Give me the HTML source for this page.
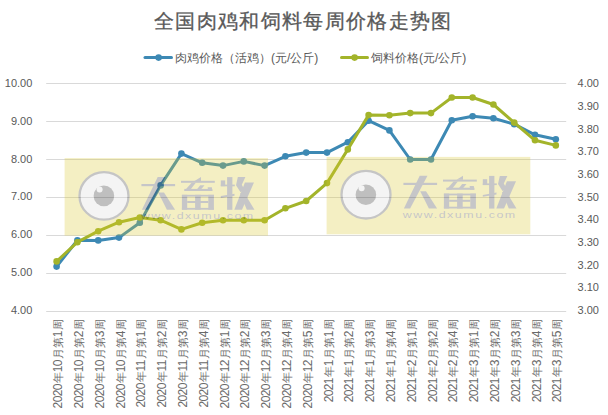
<!DOCTYPE html>
<html><head><meta charset="utf-8"><style>
html,body{margin:0;padding:0;background:#fff;width:608px;height:415px;overflow:hidden}
svg{display:block;font-family:"Liberation Sans",sans-serif}
</style></head><body>
<svg width="608" height="415" viewBox="0 0 608 415">
<line x1="46.2" y1="83.5" x2="566.2" y2="83.5" stroke="#d9d9d9" stroke-width="1"/>
<line x1="46.2" y1="121.5" x2="566.2" y2="121.5" stroke="#d9d9d9" stroke-width="1"/>
<line x1="46.2" y1="159.5" x2="566.2" y2="159.5" stroke="#d9d9d9" stroke-width="1"/>
<line x1="46.2" y1="197.5" x2="566.2" y2="197.5" stroke="#d9d9d9" stroke-width="1"/>
<line x1="46.2" y1="235.5" x2="566.2" y2="235.5" stroke="#d9d9d9" stroke-width="1"/>
<line x1="46.2" y1="273.5" x2="566.2" y2="273.5" stroke="#d9d9d9" stroke-width="1"/>
<line x1="46.2" y1="311.5" x2="566.2" y2="311.5" stroke="#d9d9d9" stroke-width="1"/>
<polyline points="56.60,266.6 77.40,240.2 98.20,240.4 119.00,237.6 139.80,222.7 160.60,185.4 181.40,153.6 202.20,162.8 223.00,165.6 243.80,161.4 264.60,165.6 285.40,156.3 306.20,152.6 327.00,152.6 347.80,142.2 368.60,120.7 389.40,130.4 410.20,159.5 431.00,159.5 451.80,120.3 472.60,116.3 493.40,118.3 514.20,124.2 535.00,134.8 555.80,139.2" fill="none" stroke="#3d89b4" stroke-width="3" stroke-linejoin="round" stroke-linecap="round"/><circle cx="56.60" cy="266.6" r="3.3" fill="#3d89b4"/><circle cx="77.40" cy="240.2" r="3.3" fill="#3d89b4"/><circle cx="98.20" cy="240.4" r="3.3" fill="#3d89b4"/><circle cx="119.00" cy="237.6" r="3.3" fill="#3d89b4"/><circle cx="139.80" cy="222.7" r="3.3" fill="#3d89b4"/><circle cx="160.60" cy="185.4" r="3.3" fill="#3d89b4"/><circle cx="181.40" cy="153.6" r="3.3" fill="#3d89b4"/><circle cx="202.20" cy="162.8" r="3.3" fill="#3d89b4"/><circle cx="223.00" cy="165.6" r="3.3" fill="#3d89b4"/><circle cx="243.80" cy="161.4" r="3.3" fill="#3d89b4"/><circle cx="264.60" cy="165.6" r="3.3" fill="#3d89b4"/><circle cx="285.40" cy="156.3" r="3.3" fill="#3d89b4"/><circle cx="306.20" cy="152.6" r="3.3" fill="#3d89b4"/><circle cx="327.00" cy="152.6" r="3.3" fill="#3d89b4"/><circle cx="347.80" cy="142.2" r="3.3" fill="#3d89b4"/><circle cx="368.60" cy="120.7" r="3.3" fill="#3d89b4"/><circle cx="389.40" cy="130.4" r="3.3" fill="#3d89b4"/><circle cx="410.20" cy="159.5" r="3.3" fill="#3d89b4"/><circle cx="431.00" cy="159.5" r="3.3" fill="#3d89b4"/><circle cx="451.80" cy="120.3" r="3.3" fill="#3d89b4"/><circle cx="472.60" cy="116.3" r="3.3" fill="#3d89b4"/><circle cx="493.40" cy="118.3" r="3.3" fill="#3d89b4"/><circle cx="514.20" cy="124.2" r="3.3" fill="#3d89b4"/><circle cx="535.00" cy="134.8" r="3.3" fill="#3d89b4"/><circle cx="555.80" cy="139.2" r="3.3" fill="#3d89b4"/>
<polyline points="56.60,261.4 77.40,242.2 98.20,231.2 119.00,222.2 139.80,217.5 160.60,220.2 181.40,229.4 202.20,222.7 223.00,220.2 243.80,220.2 264.60,220.3 285.40,208.3 306.20,201.0 327.00,183.1 347.80,149.4 368.60,115.1 389.40,115.3 410.20,113.1 431.00,113.1 451.80,97.5 472.60,97.5 493.40,104.5 514.20,122.6 535.00,140.3 555.80,145.4" fill="none" stroke="#a3b42a" stroke-width="3" stroke-linejoin="round" stroke-linecap="round"/><circle cx="56.60" cy="261.4" r="3.3" fill="#a3b42a"/><circle cx="77.40" cy="242.2" r="3.3" fill="#a3b42a"/><circle cx="98.20" cy="231.2" r="3.3" fill="#a3b42a"/><circle cx="119.00" cy="222.2" r="3.3" fill="#a3b42a"/><circle cx="139.80" cy="217.5" r="3.3" fill="#a3b42a"/><circle cx="160.60" cy="220.2" r="3.3" fill="#a3b42a"/><circle cx="181.40" cy="229.4" r="3.3" fill="#a3b42a"/><circle cx="202.20" cy="222.7" r="3.3" fill="#a3b42a"/><circle cx="223.00" cy="220.2" r="3.3" fill="#a3b42a"/><circle cx="243.80" cy="220.2" r="3.3" fill="#a3b42a"/><circle cx="264.60" cy="220.3" r="3.3" fill="#a3b42a"/><circle cx="285.40" cy="208.3" r="3.3" fill="#a3b42a"/><circle cx="306.20" cy="201.0" r="3.3" fill="#a3b42a"/><circle cx="327.00" cy="183.1" r="3.3" fill="#a3b42a"/><circle cx="347.80" cy="149.4" r="3.3" fill="#a3b42a"/><circle cx="368.60" cy="115.1" r="3.3" fill="#a3b42a"/><circle cx="389.40" cy="115.3" r="3.3" fill="#a3b42a"/><circle cx="410.20" cy="113.1" r="3.3" fill="#a3b42a"/><circle cx="431.00" cy="113.1" r="3.3" fill="#a3b42a"/><circle cx="451.80" cy="97.5" r="3.3" fill="#a3b42a"/><circle cx="472.60" cy="97.5" r="3.3" fill="#a3b42a"/><circle cx="493.40" cy="104.5" r="3.3" fill="#a3b42a"/><circle cx="514.20" cy="122.6" r="3.3" fill="#a3b42a"/><circle cx="535.00" cy="140.3" r="3.3" fill="#a3b42a"/><circle cx="555.80" cy="145.4" r="3.3" fill="#a3b42a"/>
<g opacity="0.28">
<rect x="64.6" y="158.1" width="203.4" height="77.5" fill="#dbc92c"/>
<ellipse cx="104.00" cy="195.90" rx="24.5" ry="23.8" fill="#dbdbdb" stroke="#333333" stroke-width="2.3"/>
<circle cx="103.90" cy="195.90" r="10.3" fill="#1e1e1e"/>
<circle cx="99.60" cy="189.40" r="3" fill="#dbdbdb"/>
<g fill="#37373e"><rect x="141.40" y="184.00" width="33.7" height="2.2"/><rect x="181.00" y="180.80" width="33.8" height="2.0"/><rect x="184.30" y="188.90" width="28.0" height="2.1"/><rect x="181.90" y="194.80" width="5.3" height="14.9"/><rect x="208.30" y="194.80" width="5.6" height="14.9"/><rect x="181.90" y="194.80" width="32.0" height="1.8"/><rect x="181.90" y="207.90" width="32.0" height="1.8"/><rect x="195.10" y="194.80" width="5.6" height="14.9"/><rect x="187.20" y="201.00" width="21.1" height="2.0"/><rect x="227.10" y="177.10" width="5.3" height="32.7"/><rect x="220.80" y="180.40" width="4.4" height="5.8"/><rect x="220.80" y="184.60" width="14.0" height="1.7"/><polygon points="157.70,176.90 165.50,176.90 148.10,209.80 141.90,209.80"/><polygon points="158.20,192.50 164.00,192.50 175.10,209.80 166.90,209.80"/><polygon points="194.50,180.90 201.00,177.00 201.00,180.90"/><polygon points="191.60,182.70 195.80,182.70 189.40,191.00 184.30,191.00"/><polygon points="200.20,185.20 204.50,185.20 201.20,189.20 197.00,189.20"/><polygon points="207.60,187.30 211.80,187.30 212.40,191.00 208.20,191.00"/><polygon points="220.80,196.10 234.50,193.80 234.50,195.70 220.80,198.00"/><polygon points="237.80,177.10 245.40,177.10 241.80,184.70 244.50,189.70 240.50,192.20 236.00,185.20"/><polygon points="244.90,182.40 254.00,182.40 242.00,209.80 234.30,209.80"/><polygon points="240.00,193.20 244.50,193.20 254.50,209.80 246.80,209.80"/></g>
<text x="140.80" y="219.10" font-size="9.8" fill="#33333b" textLength="114" lengthAdjust="spacingAndGlyphs" letter-spacing="1.2">www.dxumu.com</text>
</g>
<g opacity="0.28">
<rect x="326.6" y="156.9" width="203.7" height="77.4" fill="#dbc92c"/>
<ellipse cx="366.00" cy="194.70" rx="24.5" ry="23.8" fill="#dbdbdb" stroke="#333333" stroke-width="2.3"/>
<circle cx="365.90" cy="194.70" r="10.3" fill="#1e1e1e"/>
<circle cx="361.60" cy="188.20" r="3" fill="#dbdbdb"/>
<g fill="#37373e"><rect x="403.40" y="182.80" width="33.7" height="2.2"/><rect x="443.00" y="179.60" width="33.8" height="2.0"/><rect x="446.30" y="187.70" width="28.0" height="2.1"/><rect x="443.90" y="193.60" width="5.3" height="14.9"/><rect x="470.30" y="193.60" width="5.6" height="14.9"/><rect x="443.90" y="193.60" width="32.0" height="1.8"/><rect x="443.90" y="206.70" width="32.0" height="1.8"/><rect x="457.10" y="193.60" width="5.6" height="14.9"/><rect x="449.20" y="199.80" width="21.1" height="2.0"/><rect x="489.10" y="175.90" width="5.3" height="32.7"/><rect x="482.80" y="179.20" width="4.4" height="5.8"/><rect x="482.80" y="183.40" width="14.0" height="1.7"/><polygon points="419.70,175.70 427.50,175.70 410.10,208.60 403.90,208.60"/><polygon points="420.20,191.30 426.00,191.30 437.10,208.60 428.90,208.60"/><polygon points="456.50,179.70 463.00,175.80 463.00,179.70"/><polygon points="453.60,181.50 457.80,181.50 451.40,189.80 446.30,189.80"/><polygon points="462.20,184.00 466.50,184.00 463.20,188.00 459.00,188.00"/><polygon points="469.60,186.10 473.80,186.10 474.40,189.80 470.20,189.80"/><polygon points="482.80,194.90 496.50,192.60 496.50,194.50 482.80,196.80"/><polygon points="499.80,175.90 507.40,175.90 503.80,183.50 506.50,188.50 502.50,191.00 498.00,184.00"/><polygon points="506.90,181.20 516.00,181.20 504.00,208.60 496.30,208.60"/><polygon points="502.00,192.00 506.50,192.00 516.50,208.60 508.80,208.60"/></g>
<text x="402.80" y="217.90" font-size="9.8" fill="#33333b" textLength="114" lengthAdjust="spacingAndGlyphs" letter-spacing="1.2">www.dxumu.com</text>
</g>
<line x1="145" y1="57.6" x2="171.5" y2="57.6" stroke="#3d89b4" stroke-width="3" stroke-linecap="round"/><circle cx="158.6" cy="57.6" r="3.3" fill="#3d89b4"/>
<line x1="341.5" y1="57.6" x2="367.5" y2="57.6" stroke="#a3b42a" stroke-width="3" stroke-linecap="round"/><circle cx="354.6" cy="57.6" r="3.3" fill="#a3b42a"/>
<text x="32.3" y="86.90" font-size="11" text-anchor="end" fill="#595959" transform="translate(32.3 82.90) scale(1.0 1.03) translate(-32.3 -82.90)">10.00</text>
<text x="32.3" y="124.72" font-size="11" text-anchor="end" fill="#595959" transform="translate(32.3 120.72) scale(1.0 1.03) translate(-32.3 -120.72)">9.00</text>
<text x="32.3" y="162.54" font-size="11" text-anchor="end" fill="#595959" transform="translate(32.3 158.54) scale(1.0 1.03) translate(-32.3 -158.54)">8.00</text>
<text x="32.3" y="200.36" font-size="11" text-anchor="end" fill="#595959" transform="translate(32.3 196.36) scale(1.0 1.03) translate(-32.3 -196.36)">7.00</text>
<text x="32.3" y="238.18" font-size="11" text-anchor="end" fill="#595959" transform="translate(32.3 234.18) scale(1.0 1.03) translate(-32.3 -234.18)">6.00</text>
<text x="32.3" y="276.00" font-size="11" text-anchor="end" fill="#595959" transform="translate(32.3 272.00) scale(1.0 1.03) translate(-32.3 -272.00)">5.00</text>
<text x="32.3" y="313.82" font-size="11" text-anchor="end" fill="#595959" transform="translate(32.3 309.82) scale(1.0 1.03) translate(-32.3 -309.82)">4.00</text>
<text x="577.6" y="87.10" font-size="11" fill="#595959" transform="translate(577.6 83.10) scale(1.0 1.03) translate(-577.6 -83.10)">4.00</text>
<text x="577.6" y="109.77" font-size="11" fill="#595959" transform="translate(577.6 105.77) scale(1.0 1.03) translate(-577.6 -105.77)">3.90</text>
<text x="577.6" y="132.44" font-size="11" fill="#595959" transform="translate(577.6 128.44) scale(1.0 1.03) translate(-577.6 -128.44)">3.80</text>
<text x="577.6" y="155.11" font-size="11" fill="#595959" transform="translate(577.6 151.11) scale(1.0 1.03) translate(-577.6 -151.11)">3.70</text>
<text x="577.6" y="177.78" font-size="11" fill="#595959" transform="translate(577.6 173.78) scale(1.0 1.03) translate(-577.6 -173.78)">3.60</text>
<text x="577.6" y="200.45" font-size="11" fill="#595959" transform="translate(577.6 196.45) scale(1.0 1.03) translate(-577.6 -196.45)">3.50</text>
<text x="577.6" y="223.12" font-size="11" fill="#595959" transform="translate(577.6 219.12) scale(1.0 1.03) translate(-577.6 -219.12)">3.40</text>
<text x="577.6" y="245.79" font-size="11" fill="#595959" transform="translate(577.6 241.79) scale(1.0 1.03) translate(-577.6 -241.79)">3.30</text>
<text x="577.6" y="268.46" font-size="11" fill="#595959" transform="translate(577.6 264.46) scale(1.0 1.03) translate(-577.6 -264.46)">3.20</text>
<text x="577.6" y="291.13" font-size="11" fill="#595959" transform="translate(577.6 287.13) scale(1.0 1.03) translate(-577.6 -287.13)">3.10</text>
<text x="577.6" y="313.80" font-size="11" fill="#595959" transform="translate(577.6 309.80) scale(1.0 1.03) translate(-577.6 -309.80)">3.00</text>
<text x="154" y="28" font-size="20" fill="#595959" stroke="#595959" stroke-width="0.3" letter-spacing="1.33">全国肉鸡和饲料每周价格走势图</text>
<text x="175" y="62" font-size="12" fill="#595959">肉鸡价格（活鸡）(元/公斤)</text>
<text x="371" y="62" font-size="12" fill="#595959">饲料价格(元/公斤)</text>
<text transform="translate(62.10,319.3) rotate(-90)" text-anchor="end" fill="#6a6a6a"><tspan font-size="12" letter-spacing="-0.62" dx="0">2020</tspan><tspan font-size="11" letter-spacing="0" dx="0.9">年</tspan><tspan font-size="12" letter-spacing="-0.62" dx="0.0">10</tspan><tspan font-size="11" letter-spacing="0" dx="0.9">月第</tspan><tspan font-size="12" letter-spacing="-0.62" dx="0.0">1</tspan><tspan font-size="11" letter-spacing="0" dx="0.9">周</tspan></text>
<text transform="translate(82.90,319.3) rotate(-90)" text-anchor="end" fill="#6a6a6a"><tspan font-size="12" letter-spacing="-0.62" dx="0">2020</tspan><tspan font-size="11" letter-spacing="0" dx="0.9">年</tspan><tspan font-size="12" letter-spacing="-0.62" dx="0.0">10</tspan><tspan font-size="11" letter-spacing="0" dx="0.9">月第</tspan><tspan font-size="12" letter-spacing="-0.62" dx="0.0">2</tspan><tspan font-size="11" letter-spacing="0" dx="0.9">周</tspan></text>
<text transform="translate(103.70,319.3) rotate(-90)" text-anchor="end" fill="#6a6a6a"><tspan font-size="12" letter-spacing="-0.62" dx="0">2020</tspan><tspan font-size="11" letter-spacing="0" dx="0.9">年</tspan><tspan font-size="12" letter-spacing="-0.62" dx="0.0">10</tspan><tspan font-size="11" letter-spacing="0" dx="0.9">月第</tspan><tspan font-size="12" letter-spacing="-0.62" dx="0.0">3</tspan><tspan font-size="11" letter-spacing="0" dx="0.9">周</tspan></text>
<text transform="translate(124.50,319.3) rotate(-90)" text-anchor="end" fill="#6a6a6a"><tspan font-size="12" letter-spacing="-0.62" dx="0">2020</tspan><tspan font-size="11" letter-spacing="0" dx="0.9">年</tspan><tspan font-size="12" letter-spacing="-0.62" dx="0.0">10</tspan><tspan font-size="11" letter-spacing="0" dx="0.9">月第</tspan><tspan font-size="12" letter-spacing="-0.62" dx="0.0">4</tspan><tspan font-size="11" letter-spacing="0" dx="0.9">周</tspan></text>
<text transform="translate(145.30,319.3) rotate(-90)" text-anchor="end" fill="#6a6a6a"><tspan font-size="12" letter-spacing="-0.62" dx="0">2020</tspan><tspan font-size="11" letter-spacing="0" dx="0.9">年</tspan><tspan font-size="12" letter-spacing="-0.62" dx="0.0">11</tspan><tspan font-size="11" letter-spacing="0" dx="0.9">月第</tspan><tspan font-size="12" letter-spacing="-0.62" dx="0.0">1</tspan><tspan font-size="11" letter-spacing="0" dx="0.9">周</tspan></text>
<text transform="translate(166.10,319.3) rotate(-90)" text-anchor="end" fill="#6a6a6a"><tspan font-size="12" letter-spacing="-0.62" dx="0">2020</tspan><tspan font-size="11" letter-spacing="0" dx="0.9">年</tspan><tspan font-size="12" letter-spacing="-0.62" dx="0.0">11</tspan><tspan font-size="11" letter-spacing="0" dx="0.9">月第</tspan><tspan font-size="12" letter-spacing="-0.62" dx="0.0">2</tspan><tspan font-size="11" letter-spacing="0" dx="0.9">周</tspan></text>
<text transform="translate(186.90,319.3) rotate(-90)" text-anchor="end" fill="#6a6a6a"><tspan font-size="12" letter-spacing="-0.62" dx="0">2020</tspan><tspan font-size="11" letter-spacing="0" dx="0.9">年</tspan><tspan font-size="12" letter-spacing="-0.62" dx="0.0">11</tspan><tspan font-size="11" letter-spacing="0" dx="0.9">月第</tspan><tspan font-size="12" letter-spacing="-0.62" dx="0.0">3</tspan><tspan font-size="11" letter-spacing="0" dx="0.9">周</tspan></text>
<text transform="translate(207.70,319.3) rotate(-90)" text-anchor="end" fill="#6a6a6a"><tspan font-size="12" letter-spacing="-0.62" dx="0">2020</tspan><tspan font-size="11" letter-spacing="0" dx="0.9">年</tspan><tspan font-size="12" letter-spacing="-0.62" dx="0.0">11</tspan><tspan font-size="11" letter-spacing="0" dx="0.9">月第</tspan><tspan font-size="12" letter-spacing="-0.62" dx="0.0">4</tspan><tspan font-size="11" letter-spacing="0" dx="0.9">周</tspan></text>
<text transform="translate(228.50,319.3) rotate(-90)" text-anchor="end" fill="#6a6a6a"><tspan font-size="12" letter-spacing="-0.62" dx="0">2020</tspan><tspan font-size="11" letter-spacing="0" dx="0.9">年</tspan><tspan font-size="12" letter-spacing="-0.62" dx="0.0">12</tspan><tspan font-size="11" letter-spacing="0" dx="0.9">月第</tspan><tspan font-size="12" letter-spacing="-0.62" dx="0.0">1</tspan><tspan font-size="11" letter-spacing="0" dx="0.9">周</tspan></text>
<text transform="translate(249.30,319.3) rotate(-90)" text-anchor="end" fill="#6a6a6a"><tspan font-size="12" letter-spacing="-0.62" dx="0">2020</tspan><tspan font-size="11" letter-spacing="0" dx="0.9">年</tspan><tspan font-size="12" letter-spacing="-0.62" dx="0.0">12</tspan><tspan font-size="11" letter-spacing="0" dx="0.9">月第</tspan><tspan font-size="12" letter-spacing="-0.62" dx="0.0">2</tspan><tspan font-size="11" letter-spacing="0" dx="0.9">周</tspan></text>
<text transform="translate(270.10,319.3) rotate(-90)" text-anchor="end" fill="#6a6a6a"><tspan font-size="12" letter-spacing="-0.62" dx="0">2020</tspan><tspan font-size="11" letter-spacing="0" dx="0.9">年</tspan><tspan font-size="12" letter-spacing="-0.62" dx="0.0">12</tspan><tspan font-size="11" letter-spacing="0" dx="0.9">月第</tspan><tspan font-size="12" letter-spacing="-0.62" dx="0.0">3</tspan><tspan font-size="11" letter-spacing="0" dx="0.9">周</tspan></text>
<text transform="translate(290.90,319.3) rotate(-90)" text-anchor="end" fill="#6a6a6a"><tspan font-size="12" letter-spacing="-0.62" dx="0">2020</tspan><tspan font-size="11" letter-spacing="0" dx="0.9">年</tspan><tspan font-size="12" letter-spacing="-0.62" dx="0.0">12</tspan><tspan font-size="11" letter-spacing="0" dx="0.9">月第</tspan><tspan font-size="12" letter-spacing="-0.62" dx="0.0">4</tspan><tspan font-size="11" letter-spacing="0" dx="0.9">周</tspan></text>
<text transform="translate(311.70,319.3) rotate(-90)" text-anchor="end" fill="#6a6a6a"><tspan font-size="12" letter-spacing="-0.62" dx="0">2020</tspan><tspan font-size="11" letter-spacing="0" dx="0.9">年</tspan><tspan font-size="12" letter-spacing="-0.62" dx="0.0">12</tspan><tspan font-size="11" letter-spacing="0" dx="0.9">月第</tspan><tspan font-size="12" letter-spacing="-0.62" dx="0.0">5</tspan><tspan font-size="11" letter-spacing="0" dx="0.9">周</tspan></text>
<text transform="translate(332.50,319.3) rotate(-90)" text-anchor="end" fill="#6a6a6a"><tspan font-size="12" letter-spacing="-0.62" dx="0">2021</tspan><tspan font-size="11" letter-spacing="0" dx="0.9">年</tspan><tspan font-size="12" letter-spacing="-0.62" dx="0.0">1</tspan><tspan font-size="11" letter-spacing="0" dx="0.9">月第</tspan><tspan font-size="12" letter-spacing="-0.62" dx="0.0">1</tspan><tspan font-size="11" letter-spacing="0" dx="0.9">周</tspan></text>
<text transform="translate(353.30,319.3) rotate(-90)" text-anchor="end" fill="#6a6a6a"><tspan font-size="12" letter-spacing="-0.62" dx="0">2021</tspan><tspan font-size="11" letter-spacing="0" dx="0.9">年</tspan><tspan font-size="12" letter-spacing="-0.62" dx="0.0">1</tspan><tspan font-size="11" letter-spacing="0" dx="0.9">月第</tspan><tspan font-size="12" letter-spacing="-0.62" dx="0.0">2</tspan><tspan font-size="11" letter-spacing="0" dx="0.9">周</tspan></text>
<text transform="translate(374.10,319.3) rotate(-90)" text-anchor="end" fill="#6a6a6a"><tspan font-size="12" letter-spacing="-0.62" dx="0">2021</tspan><tspan font-size="11" letter-spacing="0" dx="0.9">年</tspan><tspan font-size="12" letter-spacing="-0.62" dx="0.0">1</tspan><tspan font-size="11" letter-spacing="0" dx="0.9">月第</tspan><tspan font-size="12" letter-spacing="-0.62" dx="0.0">3</tspan><tspan font-size="11" letter-spacing="0" dx="0.9">周</tspan></text>
<text transform="translate(394.90,319.3) rotate(-90)" text-anchor="end" fill="#6a6a6a"><tspan font-size="12" letter-spacing="-0.62" dx="0">2021</tspan><tspan font-size="11" letter-spacing="0" dx="0.9">年</tspan><tspan font-size="12" letter-spacing="-0.62" dx="0.0">1</tspan><tspan font-size="11" letter-spacing="0" dx="0.9">月第</tspan><tspan font-size="12" letter-spacing="-0.62" dx="0.0">4</tspan><tspan font-size="11" letter-spacing="0" dx="0.9">周</tspan></text>
<text transform="translate(415.70,319.3) rotate(-90)" text-anchor="end" fill="#6a6a6a"><tspan font-size="12" letter-spacing="-0.62" dx="0">2021</tspan><tspan font-size="11" letter-spacing="0" dx="0.9">年</tspan><tspan font-size="12" letter-spacing="-0.62" dx="0.0">2</tspan><tspan font-size="11" letter-spacing="0" dx="0.9">月第</tspan><tspan font-size="12" letter-spacing="-0.62" dx="0.0">1</tspan><tspan font-size="11" letter-spacing="0" dx="0.9">周</tspan></text>
<text transform="translate(436.50,319.3) rotate(-90)" text-anchor="end" fill="#6a6a6a"><tspan font-size="12" letter-spacing="-0.62" dx="0">2021</tspan><tspan font-size="11" letter-spacing="0" dx="0.9">年</tspan><tspan font-size="12" letter-spacing="-0.62" dx="0.0">2</tspan><tspan font-size="11" letter-spacing="0" dx="0.9">月第</tspan><tspan font-size="12" letter-spacing="-0.62" dx="0.0">2</tspan><tspan font-size="11" letter-spacing="0" dx="0.9">周</tspan></text>
<text transform="translate(457.30,319.3) rotate(-90)" text-anchor="end" fill="#6a6a6a"><tspan font-size="12" letter-spacing="-0.62" dx="0">2021</tspan><tspan font-size="11" letter-spacing="0" dx="0.9">年</tspan><tspan font-size="12" letter-spacing="-0.62" dx="0.0">2</tspan><tspan font-size="11" letter-spacing="0" dx="0.9">月第</tspan><tspan font-size="12" letter-spacing="-0.62" dx="0.0">4</tspan><tspan font-size="11" letter-spacing="0" dx="0.9">周</tspan></text>
<text transform="translate(478.10,319.3) rotate(-90)" text-anchor="end" fill="#6a6a6a"><tspan font-size="12" letter-spacing="-0.62" dx="0">2021</tspan><tspan font-size="11" letter-spacing="0" dx="0.9">年</tspan><tspan font-size="12" letter-spacing="-0.62" dx="0.0">3</tspan><tspan font-size="11" letter-spacing="0" dx="0.9">月第</tspan><tspan font-size="12" letter-spacing="-0.62" dx="0.0">1</tspan><tspan font-size="11" letter-spacing="0" dx="0.9">周</tspan></text>
<text transform="translate(498.90,319.3) rotate(-90)" text-anchor="end" fill="#6a6a6a"><tspan font-size="12" letter-spacing="-0.62" dx="0">2021</tspan><tspan font-size="11" letter-spacing="0" dx="0.9">年</tspan><tspan font-size="12" letter-spacing="-0.62" dx="0.0">3</tspan><tspan font-size="11" letter-spacing="0" dx="0.9">月第</tspan><tspan font-size="12" letter-spacing="-0.62" dx="0.0">2</tspan><tspan font-size="11" letter-spacing="0" dx="0.9">周</tspan></text>
<text transform="translate(519.70,319.3) rotate(-90)" text-anchor="end" fill="#6a6a6a"><tspan font-size="12" letter-spacing="-0.62" dx="0">2021</tspan><tspan font-size="11" letter-spacing="0" dx="0.9">年</tspan><tspan font-size="12" letter-spacing="-0.62" dx="0.0">3</tspan><tspan font-size="11" letter-spacing="0" dx="0.9">月第</tspan><tspan font-size="12" letter-spacing="-0.62" dx="0.0">3</tspan><tspan font-size="11" letter-spacing="0" dx="0.9">周</tspan></text>
<text transform="translate(540.50,319.3) rotate(-90)" text-anchor="end" fill="#6a6a6a"><tspan font-size="12" letter-spacing="-0.62" dx="0">2021</tspan><tspan font-size="11" letter-spacing="0" dx="0.9">年</tspan><tspan font-size="12" letter-spacing="-0.62" dx="0.0">3</tspan><tspan font-size="11" letter-spacing="0" dx="0.9">月第</tspan><tspan font-size="12" letter-spacing="-0.62" dx="0.0">4</tspan><tspan font-size="11" letter-spacing="0" dx="0.9">周</tspan></text>
<text transform="translate(561.30,319.3) rotate(-90)" text-anchor="end" fill="#6a6a6a"><tspan font-size="12" letter-spacing="-0.62" dx="0">2021</tspan><tspan font-size="11" letter-spacing="0" dx="0.9">年</tspan><tspan font-size="12" letter-spacing="-0.62" dx="0.0">3</tspan><tspan font-size="11" letter-spacing="0" dx="0.9">月第</tspan><tspan font-size="12" letter-spacing="-0.62" dx="0.0">5</tspan><tspan font-size="11" letter-spacing="0" dx="0.9">周</tspan></text>
</svg>
</body></html>
